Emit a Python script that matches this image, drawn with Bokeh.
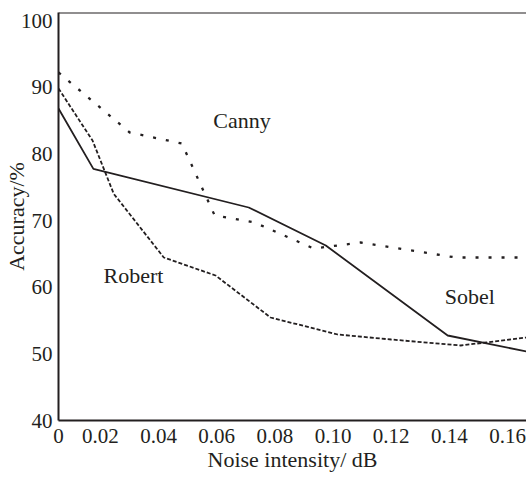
from bokeh.plotting import figure
from bokeh.models import Range1d, FixedTicker, PrintfTickFormatter, Span
from bokeh.embed import file_html
from bokeh.resources import INLINE
from bokeh.core.properties import value

# ---- data ----
noise_canny = [0.0056, 0.0301, 0.048, 0.0593, 0.0730, 0.0933, 0.1095, 0.1422, 0.1665]
acc_canny = [92.2, 83.2, 81.55, 70.75, 69.7, 65.8, 66.7, 64.45, 64.45]

noise_sobel = [0.0056, 0.0176, 0.0710, 0.0975, 0.1394, 0.1665]
acc_sobel = [86.8, 77.75, 71.95, 66.25, 52.75, 50.35]

noise_robert = [0.0056, 0.0173, 0.0246, 0.0418, 0.0596, 0.0785, 0.1016, 0.12, 0.1439, 0.1665]
acc_robert = [89.8, 82.0, 74.0, 64.45, 61.75, 55.45, 52.9, 52.15, 51.25, 52.45]

label_names = ["Canny", "Robert", "Sobel"]
label_x = [0.0687, 0.0314, 0.1470]
label_y = [85.0, 61.75, 58.6]

x_ticks = [0.0056, 0.02, 0.04, 0.06, 0.08, 0.10, 0.12, 0.14, 0.16]
x_tick_labels = ["0", "0.02", "0.04", "0.06", "0.08", "0.10", "0.12", "0.14", "0.16"]
y_ticks = [40, 50, 60, 70, 80, 90, 100]

x_title = "Noise intensity/ dB"
y_title = "Accuracy/%"

X_START, X_END = 0.0056, 0.1665
Y_START, Y_END = 40, 101.2

INK = "#231f20"
FONT = "Liberation Serif"
FS_TICK = "21px"
FS_TEXT = "22px"

p = figure(frame_width=468, frame_height=408,
           x_range=Range1d(X_START, X_END), y_range=Range1d(Y_START, Y_END),
           output_backend="svg", toolbar_location=None,
           min_border_left=58, min_border_right=0, min_border_top=12, min_border_bottom=58)
p.grid.visible = False
p.outline_line_color = None
p.background_fill_color = "white"
p.border_fill_color = "white"

# lines
p.line(noise_canny, acc_canny, line_color=INK, line_width=2.3, line_dash="3 10")
p.line(noise_robert, acc_robert, line_color=INK, line_width=1.8, line_dash="4 2")
p.line(noise_sobel, acc_sobel, line_color=INK, line_width=1.8)

# series names
p.text(x=label_x, y=label_y, text=label_names, text_font=value(FONT),
       text_font_size=value(FS_TEXT), text_color=INK, text_align="center",
       text_baseline="alphabetic")

# axes
for ax in (p.xaxis[0], p.yaxis[0]):
    ax.axis_line_color = INK
    ax.axis_line_width = 2
    ax.major_tick_line_color = None
    ax.minor_tick_line_color = None
    ax.major_tick_out = 0
    ax.major_tick_in = 0
    ax.major_label_text_font = FONT
    ax.major_label_text_font_size = FS_TICK
    ax.major_label_text_color = INK
    ax.major_label_text_line_height = 1.0
    ax.axis_label_text_font = FONT
    ax.axis_label_text_font_size = FS_TEXT
    ax.axis_label_text_color = INK
    ax.axis_label_text_font_style = "normal"
    ax.axis_label_text_line_height = 1.0

xa = p.xaxis[0]
xa.ticker = FixedTicker(ticks=x_ticks)
xa.formatter = PrintfTickFormatter(format="%.2f")
xa.major_label_overrides = {t: s for t, s in zip(x_ticks, x_tick_labels)}
xa.axis_label = x_title
xa.major_label_standoff = 8
xa.axis_label_standoff = 1

ya = p.yaxis[0]
ya.ticker = FixedTicker(ticks=y_ticks)
ya.major_label_standoff = 6
ya.axis_label = y_title
ya.axis_label_standoff = -11

# top border line
p.add_layout(Span(location=Y_END, dimension="width", line_color=INK, line_width=2))

open("out.html", "w").write(file_html(p, INLINE))
